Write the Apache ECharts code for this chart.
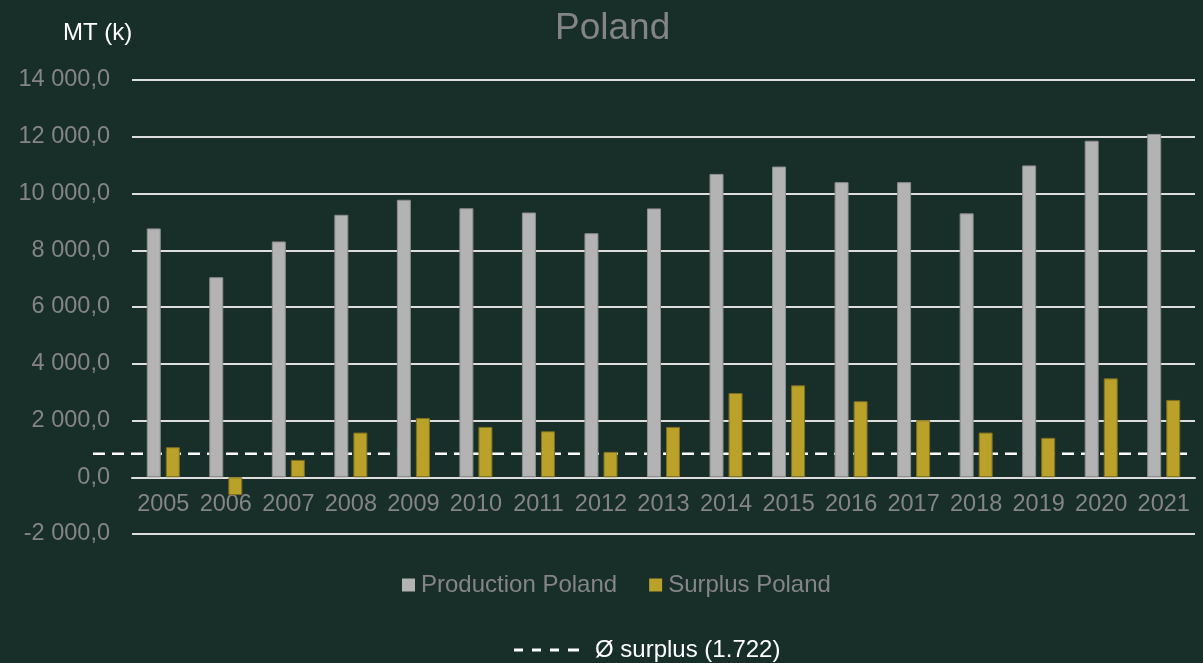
<!DOCTYPE html>
<html>
<head>
<meta charset="utf-8">
<script src="https://cdn.jsdelivr.net/npm/echarts@6/dist/echarts.min.js"></script>
<style>
  html, body { margin: 0; padding: 0; background: #182e29; }
  #chart { width: 1203px; height: 663px; }
</style>
</head>
<body>
<div id="chart"></div>
<script>
const years = ['2005', '2006', '2007', '2008', '2009', '2010', '2011', '2012', '2013',
  '2014', '2015', '2016', '2017', '2018', '2019', '2020', '2021']
const production = [8770, 7050, 8310, 9250, 9780, 9480, 9330, 8600, 9475,
  10690, 10950, 10400, 10400, 9300, 10990, 11860, 12100]
const surplus = [1060, -630, 610, 1575, 2090, 1775, 1620, 895, 1775,
  2970, 3240, 2680, 2010, 1575, 1390, 3485, 2725]
const surplusMean = 825
const meanLabel = 'Ø surplus (1.722)'

const fmt = v => {
  const neg = v < 0
  const s = Math.abs(v).toFixed(0).replace(/\B(?=(\d{3})+(?!\d))/g, ' ')
  return (neg ? '-' : '') + s + ',0'
}

const font = 'Liberation Sans, Arial, sans-serif'
const chart = echarts.init(document.getElementById('chart'))

// zero line sits 2000 of 16000 above the grid bottom (grid height 454px)
const zeroOffset = -454 * 2000 / 16000

chart.setOption({
  backgroundColor: '#182e29',
  animation: false,
  title: [
    { text: 'Poland', left: 550, top: 5,
      textStyle: { color: '#848484', fontSize: 37, fontWeight: 'normal', fontFamily: font } },
    { text: 'MT (k)', left: 58, top: 16,
      textStyle: { color: '#ffffff', fontSize: 24, fontWeight: 'normal', fontFamily: font } }
  ],
  legend: [
    {
      data: ['Production Poland', 'Surplus Poland'],
      left: 397, top: 568,
      itemWidth: 13, itemHeight: 13, itemGap: 32, icon: 'rect',
      itemStyle: { borderWidth: 0 },
      textStyle: { color: '#858585', fontSize: 24, fontFamily: font, padding: [0, 0, 0, 1] }
    },
    {
      data: [{
        name: meanLabel,
        icon: 'path://M0,0h9v3h-9zM18,0h9v3h-9zM36,0h9v3h-9zM54,0h11v3h-11z'
      }],
      left: 509, top: 633,
      itemWidth: 65, itemHeight: 3, itemGap: 10,
      textStyle: { color: '#ffffff', fontSize: 24, fontFamily: font, padding: [0, 0, 0, 11] }
    }
  ],
  grid: [
    { left: 132, right: 8, top: 80, bottom: 129 },
    { left: 93, right: 16, top: 80, bottom: 129 }
  ],
  xAxis: [
    {
      type: 'category', data: years, gridIndex: 0,
      offset: zeroOffset,
      axisLine: { onZero: false, lineStyle: { color: '#dedede', width: 2 } },
      axisTick: { show: false },
      axisLabel: { color: '#858585', fontSize: 23.5, fontFamily: font, margin: 15, interval: 0 }
    },
    { type: 'value', gridIndex: 1, min: 0, max: 1, show: false }
  ],
  yAxis: [
    {
      type: 'value', gridIndex: 0, min: -2000, max: 14000, interval: 2000,
      axisLine: { show: false }, axisTick: { show: false },
      splitLine: { lineStyle: { color: '#dedede', width: 2 } },
      axisLabel: { color: '#858585', fontSize: 23.5, fontFamily: font, margin: 22, formatter: fmt }
    },
    { type: 'value', gridIndex: 1, min: -2000, max: 14000, show: false }
  ],
  series: [
    {
      name: meanLabel, type: 'line', xAxisIndex: 1, yAxisIndex: 1,
      data: [[0, surplusMean], [1, surplusMean]],
      symbol: 'none', z: 1,
      lineStyle: { color: '#ffffff', width: 2.5, type: [12, 7] },
      itemStyle: { color: '#ffffff' }
    },
    {
      name: 'Production Poland', type: 'bar', data: production,
      barWidth: 14, barGap: '36%', z: 3,
      itemStyle: { color: '#b3b3b3', borderColor: '#8d8d8d', borderWidth: 1 }
    },
    {
      name: 'Surplus Poland', type: 'bar', data: surplus,
      barWidth: 14, z: 3,
      itemStyle: { color: '#b9a12a', borderColor: '#7e6f1e', borderWidth: 1 }
    }
  ]
})
</script>
</body>
</html>
